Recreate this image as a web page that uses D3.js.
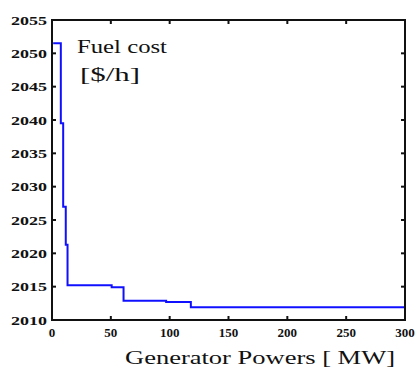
<!DOCTYPE html>
<html>
<head>
<meta charset="utf-8">
<script src="https://cdn.jsdelivr.net/npm/d3@7"></script>
<style>
  html, body { margin: 0; padding: 0; background: #fff; }
  svg { display: block; }
  .ser { font-family: "Liberation Serif", "DejaVu Serif", "Times New Roman", serif; }
  .dser { font-family: "DejaVu Serif", "Liberation Serif", serif; }
</style>
</head>
<body>
<svg id="chart" width="416" height="367"></svg>
<script>
// Data (step function: fuel cost vs generator power)
const power = [1, 7.5, 9.5, 11.7, 13.2, 50.7, 60.8, 97, 118, 300];
const cost  = [2051.5, 2039.5, 2027.0, 2021.3, 2015.2, 2014.9, 2012.9, 2012.7, 2011.9, 2011.9];
const xTicks = [0, 50, 100, 150, 200, 250, 300];
const yTicks = [2010, 2015, 2020, 2025, 2030, 2035, 2040, 2045, 2050, 2055];
const xTitle = "Generator Powers [ MW]";
const yTitle1 = "Fuel cost";
const yTitle2 = "[$/h]";

(function () {
const svg = d3.select("#chart");
const pL = 52, pR = 405, pT = 20, pB = 320;
const x = d3.scaleLinear().domain([0, 300]).range([pL, pR]);
const y = d3.scaleLinear().domain([2010, 2055]).range([pB, pT]);

// Line
const pts = power.map((p, i) => [p, cost[i]]);
const line = d3.line().x(d => x(d[0])).y(d => y(d[1])).curve(d3.curveStepAfter);
svg.append("path").datum(pts)
  .attr("d", line)
  .attr("fill", "none")
  .attr("stroke", "#1010ff")
  .attr("stroke-width", 2);

// Frame
svg.append("rect")
  .attr("x", pL).attr("y", pT)
  .attr("width", pR - pL).attr("height", pB - pT)
  .attr("fill", "none").attr("stroke", "#111").attr("stroke-width", 2);

const tl = 4;
xTicks.forEach(t => {
  svg.append("line").attr("x1", x(t)).attr("x2", x(t)).attr("y1", pB).attr("y2", pB - tl)
    .attr("stroke", "#111").attr("stroke-width", 2);
  svg.append("line").attr("x1", x(t)).attr("x2", x(t)).attr("y1", pT).attr("y2", pT + tl)
    .attr("stroke", "#111").attr("stroke-width", 2);
  svg.append("text").attr("class", "ser").attr("x", x(t)).attr("y", 337)
    .attr("text-anchor", "middle")
    .style("font-weight", "bold").style("font-size", "13px")
    .attr("fill", "#111").text(t);
});
yTicks.forEach(t => {
  svg.append("line").attr("x1", pL).attr("x2", pL + tl).attr("y1", y(t)).attr("y2", y(t))
    .attr("stroke", "#111").attr("stroke-width", 2);
  svg.append("line").attr("x1", pR).attr("x2", pR - tl).attr("y1", y(t)).attr("y2", y(t))
    .attr("stroke", "#111").attr("stroke-width", 2);
  svg.append("text").attr("class", "ser").attr("x", 47).attr("y", y(t)).attr("dy", "0.36em")
    .attr("text-anchor", "end")
    .attr("textLength", 36).attr("lengthAdjust", "spacingAndGlyphs")
    .style("font-weight", "bold").style("font-size", "13px")
    .attr("fill", "#111").text(t);
});

// Titles
svg.append("text").attr("class", "ser").attr("x", 77).attr("y", 53)
  .style("font-size", "19px")
  .attr("textLength", 90).attr("lengthAdjust", "spacingAndGlyphs")
  .attr("fill", "#111").text(yTitle1);
svg.append("text").attr("class", "ser").attr("x", 80).attr("y", 81)
  .style("font-size", "19px")
  .attr("textLength", 60).attr("lengthAdjust", "spacingAndGlyphs")
  .attr("fill", "#111").text(yTitle2);
svg.append("text").attr("class", "ser").attr("x", 125).attr("y", 364)
  .style("font-size", "19px")
  .attr("textLength", 270).attr("lengthAdjust", "spacingAndGlyphs")
  .attr("fill", "#111").text(xTitle);
})();
</script>
</body>
</html>
